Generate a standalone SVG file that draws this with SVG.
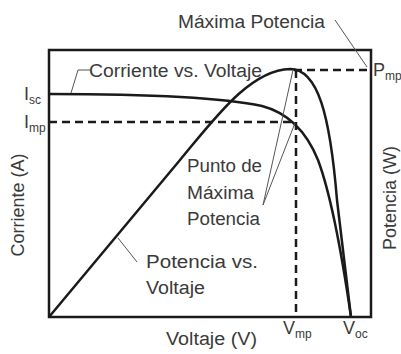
<svg xmlns="http://www.w3.org/2000/svg" width="401" height="354" viewBox="0 0 401 354">
<style>
.t{font-family:"Liberation Sans",Arial,sans-serif;font-size:18px;fill:#3a3a3a}
.s{font-size:12px}
.ax{fill:none;stroke:#1a1a1a;stroke-width:2.5}
.cv{fill:none;stroke:#1a1a1a;stroke-width:2.5}
.ds{fill:none;stroke:#1a1a1a;stroke-width:2.5;stroke-dasharray:8,5}
.ld{fill:none;stroke:#555;stroke-width:1}
</style>
<rect width="401" height="354" fill="#fff"/>
<g id="connectors">
<rect class="ax" x="49" y="50" width="322" height="267"/>
<path class="ds" d="M294,70 H371"/>
<path class="ds" d="M49,122 H296"/>
<path class="ds" d="M296,70 V317"/>
<path class="cv" d="M49,94 C140,94 220,97 262,106 C285,112 305,128 318,160 C330,192 342,255 351,317"/>
<path class="cv" d="M49,317 L180,160 C215,118 250,70 290,69 C318,69 330,115 337,200 L351,317"/>
<path class="ld" d="M71,93 L78,70 H90"/>
<path class="ld" d="M335,20 L367,67"/>
<path class="ld" d="M263,205 L293,70 M263,205 L295,123"/>
<path class="ld" d="M118,238 L137,262"/>
</g>
<g id="title"><text class="t" x="178" y="28" textLength="147" lengthAdjust="spacingAndGlyphs">Máxima Potencia</text></g>
<g id="iv-label"><text class="t" x="89" y="77" textLength="173" lengthAdjust="spacingAndGlyphs">Corriente vs. Voltaje</text></g>
<g id="pv-label"><text class="t" x="146" y="268" textLength="112" lengthAdjust="spacingAndGlyphs">Potencia vs.</text><text class="t" x="146" y="294" textLength="59" lengthAdjust="spacingAndGlyphs">Voltaje</text></g>
<g id="mpp-label"><text class="t" x="187" y="172" textLength="75" lengthAdjust="spacingAndGlyphs">Punto de</text><text class="t" x="187" y="199" textLength="67" lengthAdjust="spacingAndGlyphs">Máxima</text><text class="t" x="187" y="225" textLength="73" lengthAdjust="spacingAndGlyphs">Potencia</text></g>
<g id="isc"><text class="t" x="24" y="100">I<tspan class="s" dy="4">sc</tspan></text></g>
<g id="imp"><text class="t" x="24" y="128">I<tspan class="s" dy="4">mp</tspan></text></g>
<g id="pmp"><text class="t" x="373" y="76">P<tspan class="s" dy="4">mp</tspan></text></g>
<g id="vmp"><text class="t" x="283" y="334">V<tspan class="s" dy="4">mp</tspan></text></g>
<g id="voc"><text class="t" x="343" y="334">V<tspan class="s" dy="4">oc</tspan></text></g>
<g id="xlabel"><text class="t" x="166" y="345" textLength="91" lengthAdjust="spacingAndGlyphs">Voltaje (V)</text></g>
<g id="ylabel"><text class="t" text-anchor="middle" transform="translate(24,205) rotate(-90)">Corriente (A)</text></g>
<g id="y2label"><text class="t" text-anchor="middle" transform="translate(396,198) rotate(-90)">Potencia (W)</text></g>
</svg>
